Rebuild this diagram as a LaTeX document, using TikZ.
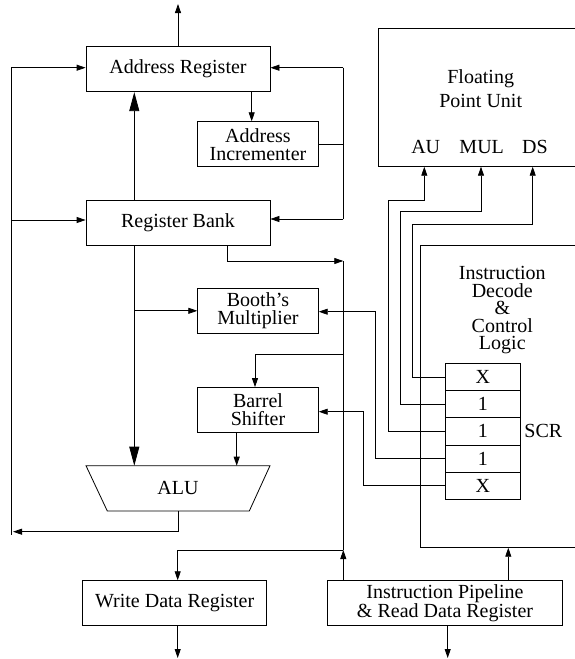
\documentclass[tikz,border=0pt]{standalone}
\usepackage{fontspec}
\setmainfont{Liberation Serif}
\usetikzlibrary{arrows.meta}
\begin{document}
\begin{tikzpicture}[x=1pt,y=-1pt,line width=0.8pt,
  every node/.style={font=\fontsize{20}{18}\selectfont,inner sep=0pt,align=center},
  box/.style={draw,minimum width=#1,minimum height=45pt},
  cell/.style={draw,minimum width=75.2pt,minimum height=27.2pt},
  arr/.style={-{Triangle[length=9pt,width=6pt]}},
  bigarr/.style={-{Triangle[length=19pt,width=10pt]}}]
\path[use as bounding box] (0,0) rectangle (575,659);

% blocks
\node[box=184pt] (ar) at (178,69.2) {Address Register};
\node[box=120.6pt] (ai) at (258,144.2) {Address\\Incrementer};
\node[box=184pt] (rb) at (178,222.8) {Register Bank};
\node[box=120.6pt] (bm) at (258,310.8) {Booth's\\Multiplier};
\node[box=120.6pt] (bs) at (258,410) {Barrel\\Shifter};
\node[box=184pt] (wdr) at (174.7,603.2) {Write Data Register};
\node[box=235.4pt] (ip) at (445,603.2) {Instruction Pipeline\\\& Read Data Register};

% ALU
\coordinate (alutl) at (86,465.7);
\coordinate (alutr) at (270,465.7);
\coordinate (alubr) at (249.3,511);
\coordinate (alubl) at (107.3,511);
\draw (alutl) -- (alutr) -- (alubr) -- (alubl) -- cycle;
\node (alu) at (178,488.3) {ALU};

% FPU
\coordinate (fpua) at (575,28.3);
\coordinate (fpub) at (378.3,28.3);
\coordinate (fpuc) at (378.3,166.7);
\coordinate (fpud) at (575,166.7);
\draw (fpua) -- (fpub) -- (fpuc) -- (fpud);
\node (fpu) at (480.7,89) {Floating\\[6pt]Point Unit};
\node (au) at (425.7,147) {AU};
\node (mul) at (481.7,147) {MUL};
\node (ds) at (535,147) {DS};

% Instruction decode
\coordinate (ida) at (575,245.7);
\coordinate (idb) at (420.7,245.7);
\coordinate (idc) at (420.7,547.7);
\coordinate (idd) at (575,547.7);
\draw (ida) -- (idb) -- (idc) -- (idd);
\node[font=\fontsize{20}{17.5}\selectfont] (idl) at (502.3,310.5) {Instruction\\Decode\\\&\\Control\\Logic};

% SCR
\node[cell] (s1) at (482.9,376.9) {X};
\node[cell] (s2) at (482.9,404.1) {1};
\node[cell] (s3) at (482.9,431.3) {1};
\node[cell] (s4) at (482.9,458.5) {1};
\node[cell] (s5) at (482.9,485.7) {X};
\node (scr) at (543.3,430.5) {SCR};

% top output
\coordinate (addrout) at (178,4);
\draw[arr] (ar.north) -- (addrout);

% left bus
\coordinate (lbt) at (11,67.7);
\coordinate (lbm) at (11,220);
\coordinate (lbb) at (11,535);
\draw (lbt) -- (lbb);
\draw[arr] (lbt) -- (ar.west |- lbt);
\draw[arr] (lbm) -- (rb.west |- lbm);

% right bus
\coordinate (rbt) at (343.3,67.7);
\coordinate (rbb) at (343.3,219);
\draw (rbt) -- (rbb);
\draw[arr] (rbt) -- (ar.east |- rbt);
\draw[arr] (rbb) -- (rb.east |- rbb);
\draw (ai.east) -- (ai.east -| rbt);
\coordinate (arinc) at (251.7,91.7);
\draw[arr] (arinc) -- (arinc |- ai.north);

% register bank outputs
\coordinate (xA) at (134.3,0);
\draw[bigarr] (rb.north -| xA) -- (ar.south -| xA);
\draw[bigarr] (rb.south -| xA) -- (alutl -| xA);
\draw[arr] (xA |- bm.west) -- (bm.west);
\coordinate (xB) at (227.7,0);
\coordinate (busT) at (343.3,261);
\coordinate (busB) at (343.3,550);
\draw[arr] (rb.south -| xB) |- (busT);
\draw (busT) -- (busB);

% barrel shifter
\coordinate (bsf) at (343.3,354.3);
\coordinate (xC) at (255,0);
\draw[arr] (bsf) -| (bs.north -| xC);
\coordinate (xD) at (236.7,0);
\draw[arr] (bs.south -| xD) -- (alutl -| xD);

% ALU output
\coordinate (alubot) at (178.3,511);
\coordinate (aluo) at (13,531.7);
\draw[arr] (alubot) |- (aluo);

% data paths bottom
\coordinate (xE) at (177.7,0);
\draw[arr] (busB) -| (wdr.north -| xE);
\draw[arr] (ip.north -| busB) -- (busB);
\coordinate (wdrout) at (177.7,658);
\draw[arr] (wdr.south -| xE) -- (wdrout);
\coordinate (ipout) at (447.7,658);
\draw[arr] (ip.south -| ipout) -- (ipout);
\coordinate (idbot) at (508.3,547.7);
\draw[arr] (ip.north -| idbot) -- (idbot);

% SCR wires
\coordinate (w1) at (412.3,224.3);
\coordinate (w2) at (400,211.7);
\coordinate (w3) at (388,200);
\coordinate (w4) at (375.7,311.7);
\coordinate (w5) at (363.3,411.7);
\coordinate (dsin) at (532.7,166.7);
\coordinate (mulin) at (481,166.7);
\coordinate (auin) at (424.3,166.7);
\draw[arr] (s1.west) -| (w1) -| (dsin);
\draw[arr] (s2.west) -| (w2) -| (mulin);
\draw[arr] (s3.west) -| (w3) -| (auin);
\draw[arr] (s4.west) -| (w4) -- (bm.east |- w4);
\draw[arr] (s5.west) -| (w5) -- (bs.east |- w5);
\end{tikzpicture}
\end{document}
